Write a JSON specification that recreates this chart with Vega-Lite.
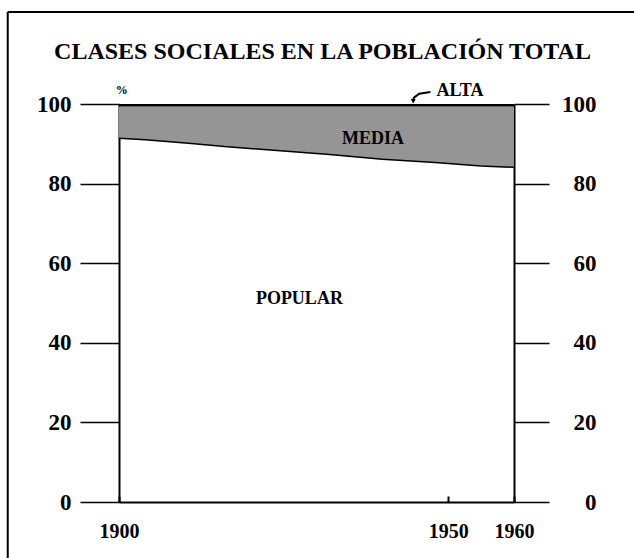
{
  "$schema": "https://vega.github.io/schema/vega-lite/v6.json",
  "width": 395,
  "height": 398,
  "autosize": {"type": "none"},
  "padding": {"left": 119, "top": 104, "right": 120, "bottom": 56},
  "background": "white",
  "config": {
    "view": {"stroke": null},
    "font": "Liberation Serif",
    "axis": {
      "labelFont": "Liberation Serif",
      "labelFontWeight": "bold",
      "labelColor": "black",
      "domainColor": "black",
      "tickColor": "black",
      "grid": false,
      "title": null
    }
  },
  "title": {
    "text": "CLASES SOCIALES EN LA POBLACIÓN TOTAL",
    "font": "Liberation Serif",
    "fontSize": 24,
    "fontWeight": "bold",
    "color": "black",
    "anchor": "middle",
    "frame": "group",
    "dx": 6,
    "offset": -53
  },
  "datasets": {
    "clases": [
      {"year": 1900, "popular": 91.4, "media_top": 99.4, "alta_top": 100},
      {"year": 1904, "popular": 91.0, "media_top": 99.4, "alta_top": 100},
      {"year": 1911, "popular": 90.1, "media_top": 99.4, "alta_top": 100},
      {"year": 1916, "popular": 89.3, "media_top": 99.4, "alta_top": 100},
      {"year": 1921, "popular": 88.7, "media_top": 99.4, "alta_top": 100},
      {"year": 1928, "popular": 87.8, "media_top": 99.4, "alta_top": 100},
      {"year": 1932, "popular": 87.3, "media_top": 99.4, "alta_top": 100},
      {"year": 1940, "popular": 86.1, "media_top": 99.4, "alta_top": 100},
      {"year": 1948, "popular": 85.3, "media_top": 99.4, "alta_top": 100},
      {"year": 1955, "popular": 84.4, "media_top": 99.4, "alta_top": 100},
      {"year": 1960, "popular": 84.1, "media_top": 99.4, "alta_top": 100}
    ]
  },
  "resolve": {"axis": {"y": "independent"}},
  "layer": [
    {
      "data": {"name": "clases"},
      "mark": {"type": "area", "fill": "#959595", "stroke": null},
      "encoding": {
        "x": {
          "field": "year", "type": "quantitative",
          "scale": {"domain": [1900, 1960], "nice": false, "zero": false},
          "axis": {
            "orient": "bottom",
            "values": [1900, 1950, 1960],
            "format": "d",
            "labelFontSize": 20,
            "labelPadding": 25,
            "tickSize": -6,
            "tickWidth": 2,
            "domainWidth": 2,
            "labelFlush": false
          }
        },
        "y": {
          "field": "media_top", "type": "quantitative",
          "scale": {"domain": [0, 100], "nice": false},
          "axis": {
            "orient": "left",
            "values": [0, 20, 40, 60, 80, 100],
            "labelFontSize": 23,
            "tickSize": 39,
            "tickWidth": 1.5,
            "labelPadding": 9,
            "domainWidth": 2
          }
        },
        "y2": {"field": "popular"}
      }
    },
    {
      "data": {"name": "clases"},
      "mark": {"type": "area", "fill": "black", "stroke": null},
      "encoding": {
        "x": {"field": "year", "type": "quantitative"},
        "y": {
          "field": "alta_top", "type": "quantitative",
          "axis": {
            "orient": "right",
            "values": [0, 20, 40, 60, 80, 100],
            "labelFontSize": 23,
            "tickSize": 35,
            "tickWidth": 1.5,
            "labelPadding": 47,
            "labelAlign": "right",
            "domainWidth": 2
          }
        },
        "y2": {"field": "media_top"}
      }
    },
    {
      "data": {"name": "clases"},
      "mark": {"type": "line", "color": "black", "strokeWidth": 1.5},
      "encoding": {
        "x": {"field": "year", "type": "quantitative"},
        "y": {"field": "popular", "type": "quantitative", "axis": null}
      }
    },
    {
      "data": {"values": [{"year": 1927.4, "pct": 51, "label": "POPULAR"}]},
      "mark": {"type": "text", "font": "Liberation Serif", "fontWeight": "bold", "fontSize": 18, "color": "black"},
      "encoding": {
        "x": {"field": "year", "type": "quantitative"},
        "y": {"field": "pct", "type": "quantitative", "axis": null},
        "text": {"field": "label"}
      }
    },
    {
      "data": {"values": [{"year": 1938.6, "pct": 91.2, "label": "MEDIA"}, {"year": 1951.8, "pct": 103.2, "label": "ALTA"}]},
      "mark": {"type": "text", "font": "Liberation Serif", "fontWeight": "bold", "fontSize": 18, "color": "black"},
      "encoding": {
        "x": {"field": "year", "type": "quantitative"},
        "y": {"field": "pct", "type": "quantitative", "axis": null},
        "text": {"field": "label"}
      }
    },
    {
      "data": {"values": [{"year": 1900.4, "pct": 103.6, "label": "%"}]},
      "mark": {"type": "text", "font": "Liberation Serif", "fontWeight": "bold", "fontSize": 12, "color": "black"},
      "encoding": {
        "x": {"field": "year", "type": "quantitative"},
        "y": {"field": "pct", "type": "quantitative", "axis": null},
        "text": {"field": "label"}
      }
    },
    {
      "data": {"values": [
        {"year": 1947.3, "pct": 103.0, "o": 1},
        {"year": 1945.6, "pct": 102.6, "o": 2},
        {"year": 1944.8, "pct": 101.6, "o": 3},
        {"year": 1944.7, "pct": 100.9, "o": 4}
      ]},
      "mark": {"type": "line", "color": "black", "strokeWidth": 2},
      "encoding": {
        "x": {"field": "year", "type": "quantitative"},
        "y": {"field": "pct", "type": "quantitative", "axis": null},
        "order": {"field": "o"}
      }
    },
    {
      "data": {"values": [{"year": 1944.7, "pct": 100.7}]},
      "mark": {"type": "point", "shape": "triangle-down", "filled": true, "color": "black", "size": 25, "opacity": 1},
      "encoding": {
        "x": {"field": "year", "type": "quantitative"},
        "y": {"field": "pct", "type": "quantitative", "axis": null}
      }
    },
    {
      "data": {"values": [{"x1": 1883.1, "x2": 1978.5, "yv": 123.1}]},
      "mark": {"type": "rule", "color": "black", "strokeWidth": 2},
      "encoding": {
        "x": {"field": "x1", "type": "quantitative"},
        "x2": {"field": "x2"},
        "y": {"field": "yv", "type": "quantitative", "axis": null}
      }
    },
    {
      "data": {"values": [{"xv": 1883.1, "y1": 123.1, "y2": -14.5}]},
      "mark": {"type": "rule", "color": "black", "strokeWidth": 2},
      "encoding": {
        "x": {"field": "xv", "type": "quantitative"},
        "y": {"field": "y1", "type": "quantitative", "axis": null},
        "y2": {"field": "y2"}
      }
    }
  ]
}
